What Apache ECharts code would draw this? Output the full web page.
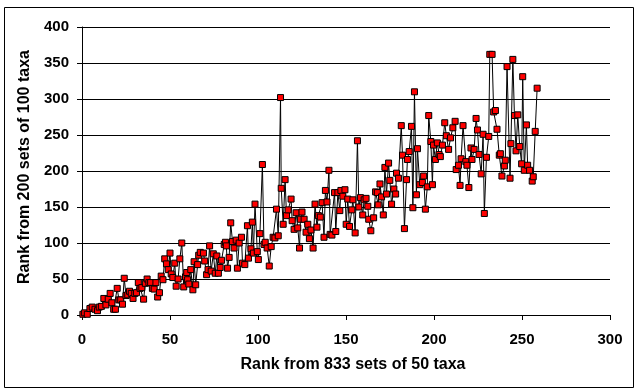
<!DOCTYPE html>
<html>
<head>
<meta charset="utf-8">
<script src="https://cdn.jsdelivr.net/npm/echarts@6/dist/echarts.min.js"></script>
<style>html,body{margin:0;padding:0;background:#fff;}#c{width:640px;height:392px;}</style>
</head>
<body>
<div id="c"></div>
<script>
var xTitle = "Rank from 833 sets of 50 taxa";
var yTitle = "Rank from 200 sets of 100 taxa";
var xTicks = [0, 50, 100, 150, 200, 250, 300];
var yTicks = [0, 50, 100, 150, 200, 250, 300, 350, 400];

var rankX = [
 0.5,1.5,3,4.5,5.8,7.4,8.8,9.8,11,12.4,13.6,14.9,16,17,18,19,20,21,22,23,24,25,26,27,28,29,30,31,32,33,34,35,36,37,38,39,40,41,42,43,44,45,46,
 47,48,49,50,50.7,51.6,52.7,53.5,54.6,55.6,56.7,57.8,58.8,59.5,60,60.7,61.8,63,63.7,64.6,65.7,66.3,67.2,69,69.7,70.8,71.6,72.5,73.4,74.6,75.7,76.6,77.5,78.5,79.3,80.8,
 81.5,82,82.7,83.6,84.5,85.5,86.4,87.6,88.3,89.3,90.6,91.2,92.5,94,94.6,96,96.8,97.4,98.3,99.6,100.2,101.1,102.5,103.4,104.1,105.2,106.4,107.5,108.6,109.6,110.5,111.5,112.8,113.2,114.3,115.4,116.2,117.1,118.8,119.4,120.5,121.7,122.6,123.6,
 124.1,125,126.2,127.3,128.3,129.2,130.1,131.3,132.4,133.5,134.3,135.4,136.4,137.5,138.3,139.2,140.3,141,142,143.5,144.2,145.4,146.5,147.1,148.2,149.4,150.1,151,152,153.3,153.9,155.2,156.5,157.3,158.2,159.5,160.3,161.4,162.4,162.9,164.1,165.7,
 166.8,167.8,168.3,169.3,170.2,171.2,172.1,173,174.2,174.9,175.9,177.2,178.2,178.7,179.8,181.4,182.1,183.2,184.4,184.9,185.9,187.2,188,188.9,190,190.6,191.9,193.4,194.1,195.1,196.2,197,198.2,199.1,199.7,200.8,201.9,202.9,203.6,204.8,206.1,207,
 208.3,209.4,210.7,212,212.6,213.9,214.8,215.4,216.5,218.1,218.7,219.8,221,221.6,222.8,223.9,224.7,225.6,226.8,227.9,228.6,229.8,231.1,231.7,233,233.9,234.9,235.8,237.1,237.7,238.6,240,240.5,241.5,243.2,243.7,244.8,245.7,246.6,247.6,248.7,249.8,250.4,251.3,252.5,253.2,254.3,255.8,256.4,257.5,258.6
];
var rankY = [
 1,3,1,9,11,8,6,11,12,23,14,22,30,17,8,8,37,21,21,15,51,27,28,33,30,23,30,31,45,37,38,22,44,50,45,45,37,36,45,25,31,54,49,
 78,71,63,86,57,52,72,40,50,78,100,39,53,59,49,43,63,35,74,42,70,83,87,86,75,56,63,96,61,85,58,82,58,66,76,98,
 101,96,65,80,128,102,93,104,65,100,108,72,70,124,79,92,129,86,154,88,77,113,209,98,101,93,68,95,108,107,147,110,302,176,126,188,138,146,161,131,119,142,121,93,
 133,143,133,115,126,106,118,93,154,122,138,136,156,108,173,157,201,112,111,170,116,170,145,173,165,174,126,161,123,146,160,114,242,150,163,139,160,162,151,133,117,135,
 171,170,153,182,164,139,205,168,211,187,154,175,168,197,190,263,222,120,188,216,227,262,149,310,167,231,181,184,193,147,178,277,241,181,236,216,239,223,220,236,267,249,
 230,246,260,269,202,208,180,217,263,213,208,177,232,216,230,273,257,223,196,251,141,219,248,362,362,282,284,258,222,224,193,207,215,345,190,238,355,277,228,278,234,210,331,201,264,208,201,186,192,255,315
];

var pts = rankX.map(function (x, i) { return [x, rankY[i]]; });
var font = "Liberation Sans, Arial, sans-serif";
var chart = echarts.init(document.getElementById('c'), null, {renderer: 'canvas'});
chart.setOption({
  animation: false,
  backgroundColor: '#fff',
  grid: {left: 82, right: 30, top: 27, bottom: 77, containLabel: false},
  xAxis: {
    type: 'value', min: xTicks[0], max: xTicks[xTicks.length - 1], interval: 50,
    axisLine: {show: true, onZero: false, lineStyle: {color: '#000', width: 1}},
    axisTick: {show: true, inside: false, length: 5, lineStyle: {color: '#000'}},
    axisLabel: {color: '#000', fontSize: 15, fontWeight: 'bold', fontFamily: font, margin: 17},
    splitLine: {show: false}
  },
  yAxis: {
    type: 'value', min: yTicks[0], max: yTicks[yTicks.length - 1], interval: 50,
    axisLine: {show: true, lineStyle: {color: '#000', width: 1}},
    axisTick: {show: true, inside: false, length: 5, lineStyle: {color: '#000'}},
    axisLabel: {color: '#000', fontSize: 15, fontWeight: 'bold', fontFamily: font, margin: 13},
    splitLine: {show: true, lineStyle: {color: '#000', width: 1}}
  },
  graphic: [{
    type: 'rect', silent: true, z: -1,
    shape: {x: 4.5, y: 7.5, width: 629, height: 380},
    style: {fill: 'none', stroke: '#000', lineWidth: 1}
  }, {
    type: 'text', silent: true, x: 353, y: 365,
    style: {text: xTitle, fill: '#000', font: 'bold 16px ' + font, align: 'center', verticalAlign: 'middle'}
  }, {
    type: 'text', silent: true, x: 25, y: 167, rotation: Math.PI / 2,
    style: {text: yTitle, fill: '#000', font: 'bold 16px ' + font, align: 'center', verticalAlign: 'middle'}
  }],
  series: [{
    type: 'line', data: pts,
    symbol: 'rect', symbolSize: 6, showAllSymbol: true,
    lineStyle: {color: '#000', width: 1},
    itemStyle: {color: '#ff0000', borderColor: '#000', borderWidth: 1},
    emphasis: {disabled: true}
  }]
});
</script>
</body>
</html>
